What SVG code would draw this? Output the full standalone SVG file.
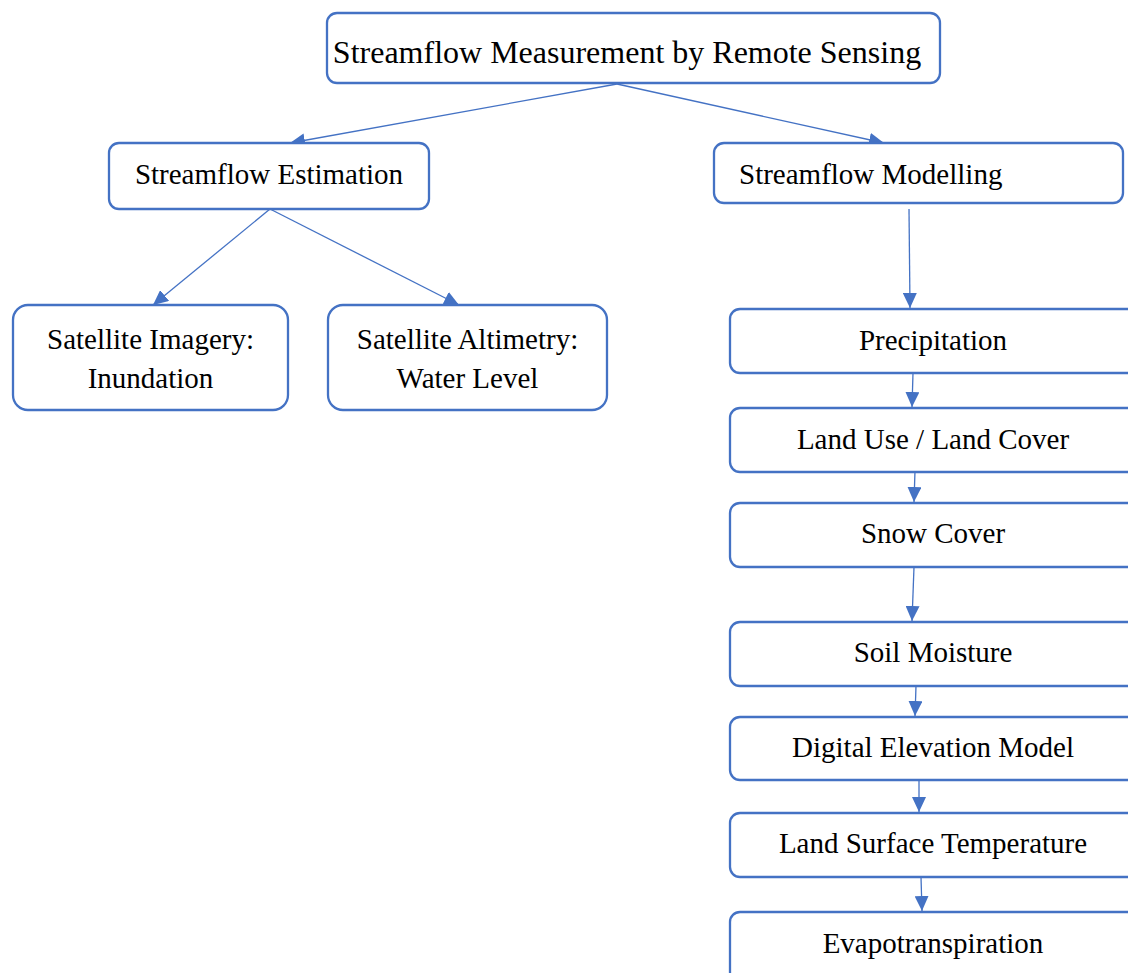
<svg xmlns="http://www.w3.org/2000/svg" width="1128" height="973" viewBox="0 0 1128 973" font-family="'Liberation Serif', 'Times New Roman', Times, serif">
  <style>
    .box { fill: #ffffff; stroke: #4472C4; stroke-width: 2.3; }
    .lbl { font-family: 'Liberation Serif', 'Times New Roman', Times, serif; font-size: 29px; fill: #000000; }
    .big { font-size: 32px; }
    .mid { text-anchor: middle; }
    .conn line { stroke: #4472C4; stroke-width: 1.3; marker-end: url(#arrow); }
  </style>
  <defs>
    <marker id="arrow" markerUnits="userSpaceOnUse" markerWidth="15" markerHeight="14" refX="15" refY="7" orient="auto">
      <path d="M0,0 L15,7 L0,14 Z" fill="#4472C4"/>
    </marker>
  </defs>
  <rect width="1128" height="973" fill="#ffffff"/>

  <g id="connectors" class="conn">
    <line x1="617" y1="84" x2="290" y2="143"/>
    <line x1="617" y1="84" x2="884" y2="143"/>
    <line x1="270" y1="209" x2="153" y2="305"/>
    <line x1="270" y1="209" x2="459" y2="305"/>
    <line x1="909" y1="209" x2="910" y2="308"/>
    <line x1="913" y1="373" x2="912" y2="407"/>
    <line x1="915" y1="471" x2="914" y2="502"/>
    <line x1="914" y1="567" x2="912" y2="621"/>
    <line x1="916" y1="686" x2="915" y2="716"/>
    <line x1="919" y1="780" x2="919" y2="812"/>
    <line x1="921" y1="877" x2="922" y2="911"/>
  </g>

  <g id="root">
    <rect class="box" x="327" y="13" width="613" height="70" rx="10"/>
    <text class="lbl big mid" x="627" y="63" font-family="Liberation Serif, serif">Streamflow Measurement by Remote Sensing</text>
  </g>

  <g id="estimation">
    <rect class="box" x="109" y="143" width="320" height="66" rx="10"/>
    <text class="lbl mid" x="269" y="184" font-family="Liberation Serif, serif">Streamflow Estimation</text>
  </g>

  <g id="modelling">
    <rect class="box" x="714" y="143" width="409" height="60" rx="10"/>
    <text class="lbl" x="739" y="184" font-family="Liberation Serif, serif">Streamflow Modelling</text>
  </g>

  <g id="imagery">
    <rect class="box" x="13" y="305" width="275" height="105" rx="15"/>
    <text class="lbl mid" x="150.5" y="349" font-family="Liberation Serif, serif">Satellite Imagery:</text>
    <text class="lbl mid" x="150.5" y="388" font-family="Liberation Serif, serif">Inundation</text>
  </g>

  <g id="altimetry">
    <rect class="box" x="328" y="305" width="279" height="105" rx="15"/>
    <text class="lbl mid" x="467.5" y="349" font-family="Liberation Serif, serif">Satellite Altimetry:</text>
    <text class="lbl mid" x="467.5" y="388" font-family="Liberation Serif, serif">Water Level</text>
  </g>

  <g id="precipitation">
    <rect class="box" x="730" y="309" width="410" height="64" rx="10"/>
    <text class="lbl mid" x="933" y="350" font-family="Liberation Serif, serif">Precipitation</text>
  </g>

  <g id="land-use">
    <rect class="box" x="730" y="408" width="410" height="64" rx="10"/>
    <text class="lbl mid" x="933" y="449" font-family="Liberation Serif, serif">Land Use / Land Cover</text>
  </g>

  <g id="snow-cover">
    <rect class="box" x="730" y="503" width="410" height="64" rx="10"/>
    <text class="lbl mid" x="933" y="543" font-family="Liberation Serif, serif">Snow Cover</text>
  </g>

  <g id="soil-moisture">
    <rect class="box" x="730" y="622" width="410" height="64" rx="10"/>
    <text class="lbl mid" x="933" y="662" font-family="Liberation Serif, serif">Soil Moisture</text>
  </g>

  <g id="dem">
    <rect class="box" x="730" y="717" width="410" height="63" rx="10"/>
    <text class="lbl mid" x="933" y="757" font-family="Liberation Serif, serif">Digital Elevation Model</text>
  </g>

  <g id="lst">
    <rect class="box" x="730" y="813" width="410" height="64" rx="10"/>
    <text class="lbl mid" x="933" y="853" font-family="Liberation Serif, serif">Land Surface Temperature</text>
  </g>

  <g id="evapotranspiration">
    <rect class="box" x="730" y="912" width="410" height="70" rx="10"/>
    <text class="lbl mid" x="933" y="953" font-family="Liberation Serif, serif">Evapotranspiration</text>
  </g>
</svg>
